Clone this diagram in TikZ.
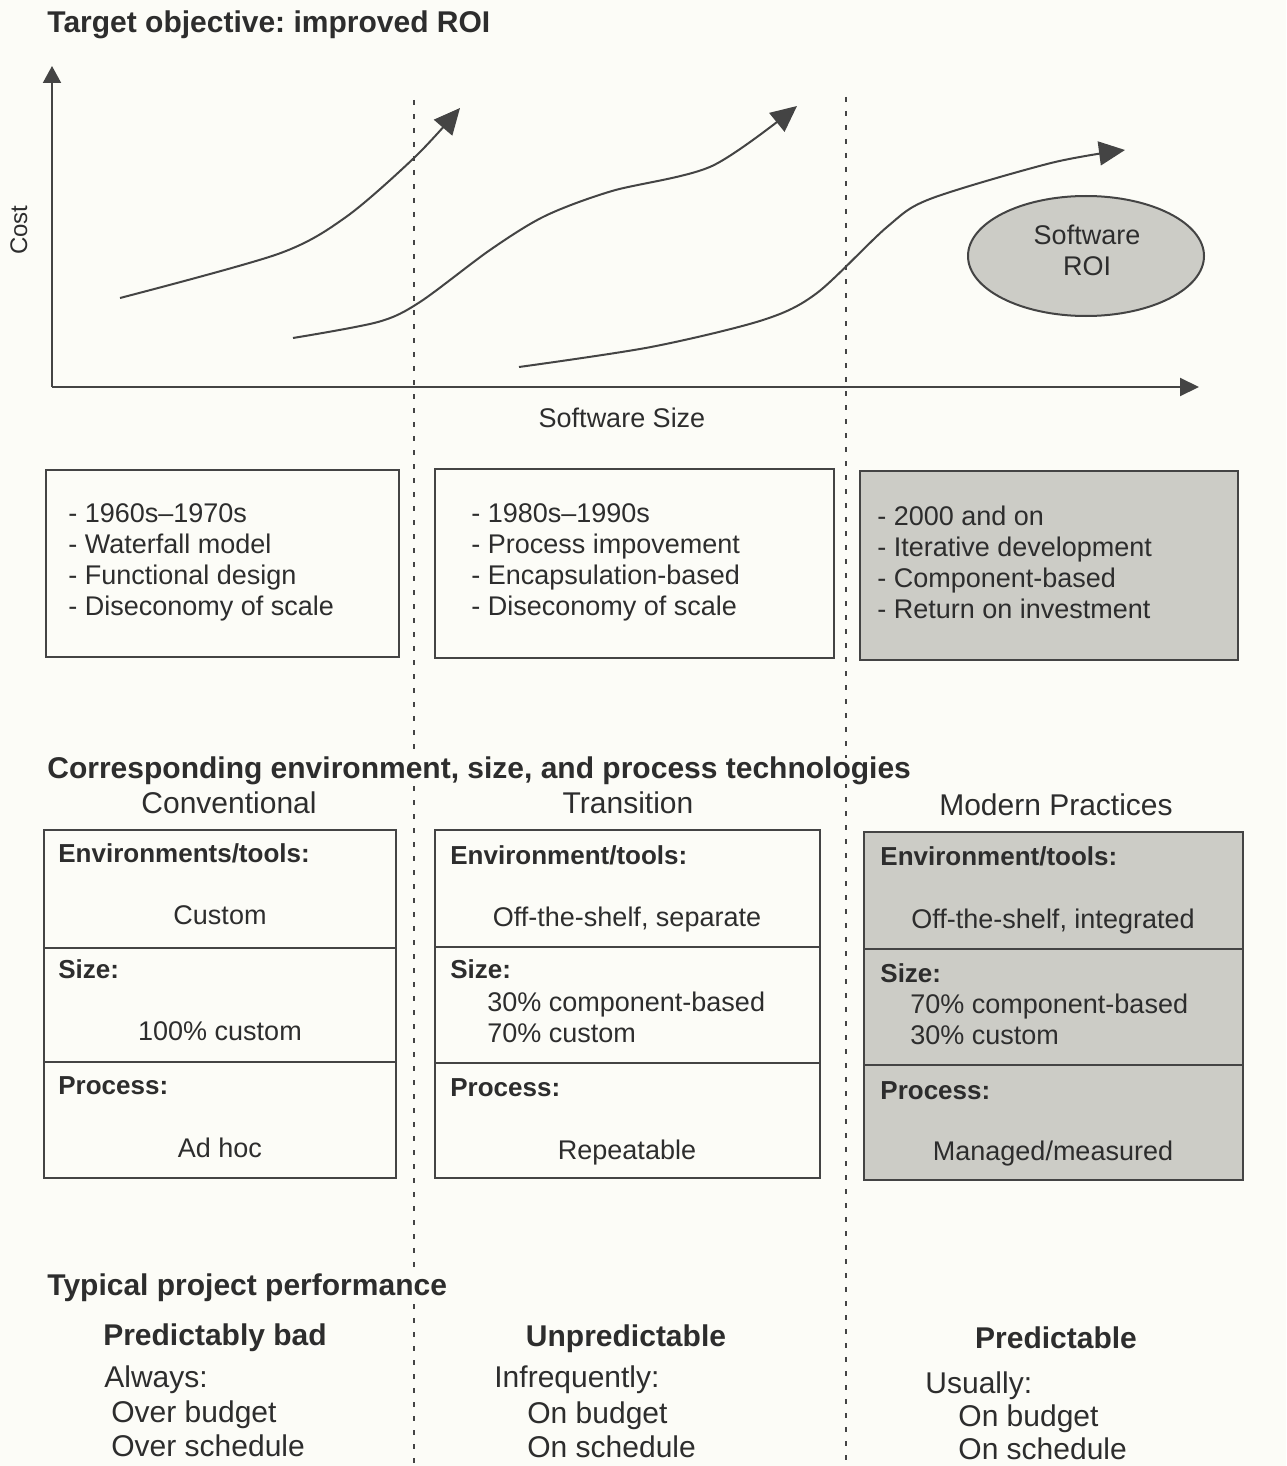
\documentclass[tikz,border=0pt]{standalone}
\usepackage{fontspec}
\setmainfont{Liberation Sans}
\usetikzlibrary{arrows.meta,positioning,shapes.geometric}

\definecolor{paper}{RGB}{252,252,247}
\definecolor{ink}{RGB}{68,68,68}
\definecolor{print}{RGB}{45,45,45}
\definecolor{shade}{RGB}{204,204,198}
\frenchspacing

\begin{document}
\begin{tikzpicture}[x=0.5pt,y=-0.5pt,color=ink,
    every node/.style={inner sep=0pt,text height=0.72em,text depth=0pt,text=print},
    heading/.style={anchor=west,font=\fontsize{15}{18}\selectfont\bfseries,fill=paper,inner ysep=3pt},
    colhead/.style={font=\fontsize{15}{18}\selectfont},
    verdict/.style={font=\fontsize{15}{18}\selectfont\bfseries},
    perf/.style={anchor=west,font=\fontsize{15}{18}\selectfont},
    item/.style={anchor=west,font=\fontsize{13.5}{16}\selectfont},
    cell/.style={font=\fontsize{13.5}{16}\selectfont},
    tag/.style={anchor=west,font=\fontsize{13}{16}\selectfont\bfseries},
    box/.style={draw=ink,line width=1pt},
    graybox/.style={box,fill=shade},
    sep/.style={draw=ink,line width=1.2pt,dash pattern=on 2.5pt off 4.5pt},
    axis/.style={draw=ink,line width=1pt},
    curve/.style={draw=ink,line width=1pt,-{Triangle[length=13pt,width=12pt]}}]

    \useasboundingbox[fill=paper] (0,0) rectangle (1286,1466);

    % generation separators
    \draw[sep] (414,100) -- (414,1466);
    \draw[sep] (846,97) -- (846,1466);

    % cost / size chart
    \node[heading] (title) at (47,25) {Target objective: improved ROI};
    \coordinate (o) at (52,387);
    \coordinate (ytip) at (52,66);
    \coordinate (xtip) at (1199,387);
    \draw[axis,-{Triangle[length=8.5pt,width=9pt]}] (o) -- (ytip);
    \draw[axis,-{Triangle[length=9.5pt,width=9pt]}] (o) -- (xtip);
    \node[font=\fontsize{12}{14}\selectfont,rotate=90] (cost) at (20,230) {Cost};
    \node[cell] (size) at (622,420) {Software Size};

    \draw[curve] plot[smooth,tension=0.5] coordinates {(120,298) (278,254) (346,217) (415,157) (460,108)};
    \draw[curve] plot[smooth,tension=0.5] coordinates {(293,338) (378,322) (420,302) (490,250) (545,216) (612,191) (712,166) (797,106)};
    \draw[curve] plot[smooth,tension=0.5] coordinates {(519,367) (651,347) (763,320) (817,293) (887,227) (930,199) (1051,163) (1125,150)};

    \node[ellipse,draw=ink,fill=shade,line width=1pt,minimum width=118pt,minimum height=60pt] (roi) at (1086,256) {};
    \node[cell] (roi1) at (1087,237) {Software};
    \node[cell] (roi2) at (1087,268) {ROI};

    % generations
    \draw[box] (46,470) rectangle (399,657);
    \draw[box] (435,469) rectangle (834,658);
    \draw[graybox] (860,471) rectangle (1238,660);
    \foreach \t [count=\i] in {- 1960s–1970s, - Waterfall model, - Functional design, - Diseconomy of scale}
        \node[item] (a\i) at (68,484+31*\i) {\t};
    \foreach \t [count=\i] in {- 1980s–1990s, - Process impovement, - Encapsulation-based, - Diseconomy of scale}
        \node[item] (b\i) at (471,484+31*\i) {\t};
    \foreach \t [count=\i] in {- 2000 and on, - Iterative development, - Component-based, - Return on investment}
        \node[item] (c\i) at (877,487+31*\i) {\t};

    % technologies
    \node[heading] (tech) at (47,771) {Corresponding environment, size, and process technologies};
    \node[colhead] (conv) at (229,806) {Conventional};
    \node[colhead] (trans) at (628,806) {Transition};
    \node[colhead] (modern) at (1056,808) {Modern Practices};

    \draw[box] (44,830) rectangle (396,1178);
    \draw[box] (44,948) -- (396,948);
    \draw[box] (44,1062) -- (396,1062);
    \node[tag] (d1) at (58,855) {Environments/tools:};
    \node[cell] (d2) at (220,917) {Custom};
    \node[tag] (d3) at (58,971) {Size:};
    \node[cell] (d4) at (220,1033) {100\% custom};
    \node[tag] (d5) at (58,1087) {Process:};
    \node[cell] (d6) at (220,1150) {Ad hoc};

    \draw[box] (435,830) rectangle (820,1178);
    \draw[box] (435,947) -- (820,947);
    \draw[box] (435,1063) -- (820,1063);
    \node[tag] (e1) at (450,857) {Environment/tools:};
    \node[cell] (e2) at (627,919) {Off-the-shelf, separate};
    \node[tag] (e3) at (450,971) {Size:};
    \node[item] (e4) at (487,1004) {30\% component-based};
    \node[item] (e5) at (487,1035) {70\% custom};
    \node[tag] (e6) at (450,1089) {Process:};
    \node[cell] (e7) at (627,1152) {Repeatable};

    \draw[graybox] (864,832) rectangle (1243,1180);
    \draw[box] (864,949) -- (1243,949);
    \draw[box] (864,1065) -- (1243,1065);
    \node[tag] (f1) at (880,858) {Environment/tools:};
    \node[cell] (f2) at (1053,921) {Off-the-shelf, integrated};
    \node[tag] (f3) at (880,975) {Size:};
    \node[item] (f4) at (910,1006) {70\% component-based};
    \node[item] (f5) at (910,1037) {30\% custom};
    \node[tag] (f6) at (880,1092) {Process:};
    \node[cell] (f7) at (1053,1153) {Managed/measured};

    % performance
    \node[heading] (perf) at (47,1288) {Typical project performance};
    \node[verdict] (p1) at (215,1338) {Predictably bad};
    \node[perf] (p2) at (104,1380) {Always:};
    \node[perf] (p3) at (111,1415) {Over budget};
    \node[perf] (p4) at (111,1449) {Over schedule};
    \node[verdict] (q1) at (626,1339) {Unpredictable};
    \node[perf] (q2) at (494,1380) {Infrequently:};
    \node[perf] (q3) at (527,1416) {On budget};
    \node[perf] (q4) at (527,1450) {On schedule};
    \node[verdict] (r1) at (1056,1341) {Predictable};
    \node[perf] (r2) at (925,1386) {Usually:};
    \node[perf] (r3) at (958,1419) {On budget};
    \node[perf] (r4) at (958,1452) {On schedule};
\end{tikzpicture}
\end{document}
